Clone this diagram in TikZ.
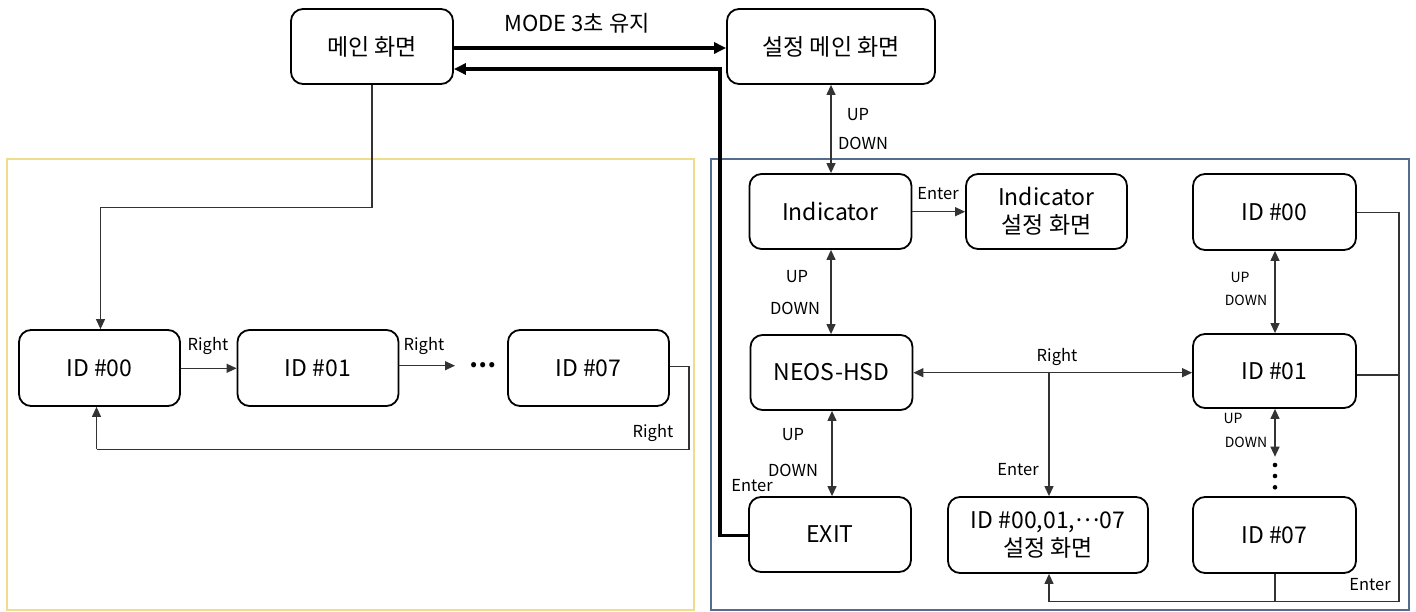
\documentclass[tikz,border=0pt]{standalone}
\usepackage{fontspec}
\setmainfont{Noto Sans CJK KR}
\usetikzlibrary{arrows.meta}
\tikzset{
  x=1pt, y=-1pt,
  box/.style={draw, line width=1.8pt, rounded corners=12pt, inner sep=0pt,
    minimum width=162pt, minimum height=75pt, align=center,
    font=\fontsize{23pt}{28pt}\selectfont},
  conn/.style={draw=black!80, line width=1.2pt},
  tip/.style={-{Triangle[length=10pt,width=9pt]}},
  tips/.style={{Triangle[length=10pt,width=9pt]}-{Triangle[length=10pt,width=9pt]}},
  heavy/.style={draw=black, line width=3.2pt},
  heavytip/.style={-{Triangle[length=12pt,width=11pt]}},
  lab/.style={inner sep=0pt, font=\fontsize{16.5pt}{18pt}\selectfont},
  labs/.style={inner sep=0pt, font=\fontsize{14pt}{16pt}\selectfont},
  frameY/.style={draw={rgb,255:red,238;green,222;blue,140}, line width=1.6pt},
  frameB/.style={draw={rgb,255:red,84;green,108;blue,142}, line width=1.6pt},
}
\begin{document}
\begin{tikzpicture}
\useasboundingbox (0,0) rectangle (1416,612);
\fill[white] (0,0) rectangle (1416,612);

% group frames
\draw[frameY] (7,159) rectangle (694,610);
\draw[frameB] (711,159) rectangle (1409,610);

% top level screens
\node[box] (main) at (372,46.5) {메인 화면};
\node[box, minimum width=208pt] (setmain) at (831,46.5) {설정 메인 화면};

% settings menu
\node[box] (ind) at (830.5,211.5) {Indicator};
\node[box, minimum width=161pt] (indset) at (1046.5,211.5) {Indicator\\설정 화면};
\node[box] (neos) at (831.5,372.5) {NEOS-HSD};
\node[box] (exit) at (830,534.5) {EXIT};
\node[box, minimum width=200pt, minimum height=76pt] (idset) at (1048,535) {ID \#00,01,\raisebox{0.3em}{…}07\\설정 화면};
\node[box, minimum width=163pt, minimum height=76pt] (r00) at (1274.5,212) {ID \#00};
\node[box, minimum width=163pt, minimum height=74pt] (r01) at (1274.5,371) {ID \#01};
\node[box, minimum width=163pt, minimum height=76pt] (r07) at (1274.5,535) {ID \#07};

% monitoring screens
\node[box, minimum width=161pt, minimum height=76pt] (l00) at (99.5,368) {ID \#00};
\node[box, minimum width=161pt, minimum height=76pt] (l01) at (318,368) {ID \#01};
\node[box, minimum width=161pt, minimum height=76pt] (l07) at (588.5,368) {ID \#07};

% enter / leave the settings menu
\draw[heavy, heavytip] (main.east|-0,48) -- (setmain.west|-0,48);
\node[inner sep=0pt, font=\fontsize{22pt}{24pt}\selectfont] (modelab) at (577,23) {MODE 3초 유지};
\coordinate (retturn) at (720,535.7);
\coordinate (rettop) at (720,69);
\draw[heavy, heavytip] (exit.west|-retturn) -- (retturn) -- (rettop) -- (main.east|-rettop);

% settings menu navigation
\draw[conn, tips] (ind.north-|831,0) -- (setmain.south-|831,0);
\node[lab] (u1) at (858,115) {UP};
\node[lab] (d1) at (863,143) {DOWN};

\draw[conn, tip] (ind.east|-0,211.7) -- (indset.west|-0,211.7);
\node[lab] (e1) at (938,194) {Enter};

\draw[conn, tips] (ind.south-|831,0) -- (neos.north-|831,0);
\node[lab] (u2) at (797,277) {UP};
\node[lab] (d2) at (795,308) {DOWN};

\draw[conn, tips] (neos.south-|832,0) -- (exit.north-|832,0);
\node[lab] (u3) at (793,435) {UP};
\node[lab] (d3) at (793,470) {DOWN};
\node[lab] (e2) at (752,486) {Enter};

\coordinate (branch) at (1049,372.7);
\draw[conn, tips] (neos.east|-branch) -- (r01.west|-branch);
\draw[conn, tip] (branch) -- (idset.north-|branch);
\node[lab] (rt1) at (1057,357) {Right};
\node[lab] (e3) at (1018,470) {Enter};

\draw[conn, tips] (r00.south-|1275,0) -- (r01.north-|1275,0);
\node[labs] (u4) at (1240,277) {UP};
\node[labs] (d4) at (1246,300) {DOWN};

\coordinate (dotend) at (1275,456.7);
\draw[conn, tips] (r01.south-|dotend) -- (dotend);
\node[labs] (u5) at (1233,418) {UP};
\node[labs] (d5) at (1246,442) {DOWN};
\foreach \yy in {465,476,487.3} \fill (1275,\yy) circle (2.3pt);

\coordinate (rside) at (1399,212.3);
\coordinate (rcorner) at (1399,601.7);
\coordinate (bcorner) at (1049,601.7);
\draw[conn] (r00.east|-rside) -- (rside) -- (rcorner) -- (bcorner);
\draw[conn, tip] (bcorner) -- (idset.south-|bcorner);
\draw[conn] (r01.east|-0,375) -- (rside|-0,375);
\draw[conn] (r07.south-|1275,0) -- (rcorner-|1275,0);
\node[lab] (e4) at (1370,585) {Enter};

% monitoring navigation
\coordinate (m1) at (372,207.3);
\coordinate (m2) at (100.5,207.3);
\draw[conn] (main.south-|m1) -- (m1) -- (m2);
\draw[conn, tip] (m2) -- (l00.north-|m2);

\draw[conn, tip] (l00.east|-0,368.3) -- (l01.west|-0,368.3);
\node[lab] (rt2) at (208,346) {Right};
\coordinate (arrend) at (455,365.7);
\draw[conn, tip] (l01.east|-arrend) -- (arrend);
\node[lab] (rt3) at (424,346) {Right};
\node[inner sep=0pt, font=\fontsize{24pt}{26pt}\selectfont\bfseries] (ldots) at (483,365) {⋯};

\coordinate (q1) at (689,366.7);
\coordinate (q2) at (689,449.3);
\coordinate (q3) at (96.5,449.3);
\draw[conn] (l07.east|-q1) -- (q1) -- (q2) -- (q3);
\draw[conn, tip] (q3) -- (l00.south-|q3);
\node[lab] (rt4) at (653,433) {Right};
\end{tikzpicture}
\end{document}
